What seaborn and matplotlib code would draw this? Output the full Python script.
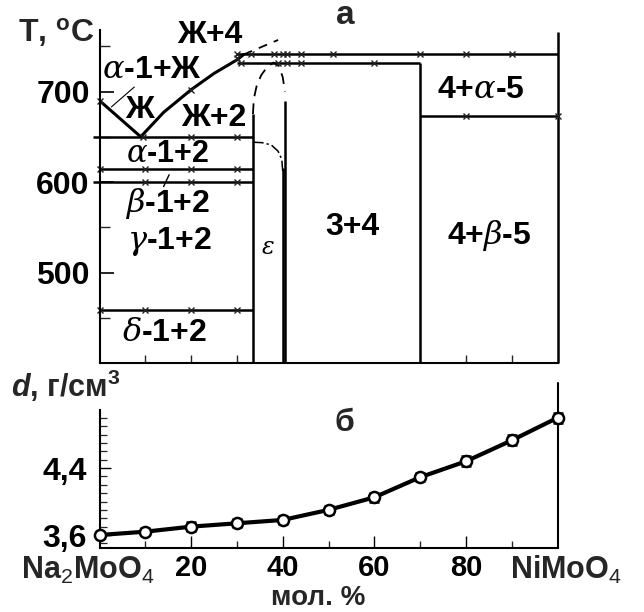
import matplotlib
matplotlib.use("Agg")
import matplotlib.pyplot as plt
import numpy as np
import pandas as pd
import seaborn as sns

# ---------------- panel "а": phase diagram Na2MoO4 - NiMoO4 ----------------
# liquidus branches (mol. % NiMoO4, °C)
liq_left_x = [0, 9]
liq_left_t = [690, 650]
liq_right_x = [9, 14, 20, 25, 30, 31.5]
liq_right_t = [650, 677, 702, 720, 735, 741]
liq_ext_x = [31.5, 39]
liq_ext_t = [741, 757]

# horizontal invariant lines: temperature, start and end composition
iso_t = [741, 732, 650, 614, 600, 459, 672.5]
iso_from = [30, 30, -1.5, 0, -1.5, 0, 70]
iso_to = [100, 70, 33.5, 33.5, 33.5, 33.5, 100]

# vertical phase boundaries: composition, lower and upper temperature
vert_x = [33.5, 40.5, 40.0, 70, 100]
vert_lo = [400, 400, 400, 400, 400]
vert_hi = [675, 690, 615, 732, 766]

# epsilon-phase field outlines
eps_dome_x = [33.5, 33.7, 34.3, 35.3, 36.6, 38.0, 39.2, 40.0, 40.5]
eps_dome_t = [675, 692, 706, 718, 727, 732, 728, 716, 700]
eps_corner_x = [33.5, 35.5, 37.5, 39.0, 39.8, 40.0]
eps_corner_t = [644, 643.5, 641, 634, 625, 612]

# thermal-analysis points (crosses)
pt_x = ([30, 33, 38, 40, 41, 44, 51, 70, 80, 90] + [31, 39, 41, 44, 60]
        + [9.5, 20, 30] + [0, 10, 20, 30] + [10, 20, 30] + [0, 10, 20, 30]
        + [80, 100] + [0, 20, 30])
pt_t = ([741] * 10 + [732] * 5 + [650] * 3 + [614] * 4 + [600] * 3
        + [459] * 4 + [672.5] * 2 + [690, 702, 737])

# phase-field labels
field_text = ["Ж+4", r"$\alpha$-1+Ж", "Ж", "Ж+2", r"$\alpha$-1+2",
              r"$\beta$-1+2", r"$\gamma$-1+2", r"$\delta$-1+2", r"$\varepsilon$",
              "3+4", r"4+$\alpha$-5", r"4+$\beta$-5"]
field_x = [24, 11.4, 8.7, 25, 14.8, 14.8, 15.3, 14.2, 36.7, 55.2, 83.2, 85]
field_t = [762, 724, 680, 671, 631, 576, 534, 433, 528, 550, 702, 541]
field_size = [23, 23, 23, 23, 22, 23, 23, 23, 17, 23, 23, 23]

# ---------------- panel "б": density ----------------
comp = [0, 10, 20, 30, 40, 50, 60, 70, 80, 90, 100]
density = [3.60, 3.64, 3.70, 3.74, 3.78, 3.90, 4.05, 4.29, 4.48, 4.73, 5.00]
dens_err = [0.04, 0.04, 0.05, 0.05, 0.05, 0.05, 0.05, 0.05, 0.06, 0.06, 0.06]

sns.set_theme(style="ticks")
plt.rcParams["font.family"] = ["Liberation Sans", "DejaVu Sans"]
plt.rcParams["font.weight"] = "bold"
plt.rcParams["mathtext.fontset"] = "custom"
plt.rcParams["mathtext.rm"] = "Liberation Sans:weight=normal"
plt.rcParams["mathtext.it"] = "DejaVu Serif:italic:weight=normal"
plt.rcParams["mathtext.bf"] = "Liberation Sans:bold"
plt.rcParams["mathtext.sf"] = "Liberation Sans:italic:bold"
plt.rcParams["axes.linewidth"] = 1.5

W, H = 644, 612
fig = plt.figure(figsize=(W / 100, H / 100), dpi=100)
fig.patch.set_facecolor("white")


def fpos(xp, yp):
    return xp / W, 1 - yp / H


ax1 = fig.add_axes([99.5 / W, 1 - 363 / H, 458 / W, 333 / H])
ax2 = fig.add_axes([99.5 / W, 1 - 548 / H, 458 / W, 138 / H])
for ax in (ax1, ax2):
    ax.set_facecolor("white")
    sns.despine(ax=ax, top=True, right=True)
    for s in ("left", "bottom"):
        ax.spines[s].set_color("black")

K = "black"
LW = 1.8

# --- top panel ---
liq_l = pd.DataFrame({"x": liq_left_x, "t": liq_left_t})
liq_r = pd.DataFrame({"x": liq_right_x, "t": liq_right_t})
sns.lineplot(data=liq_l, x="x", y="t", ax=ax1, color=K, lw=2.2, sort=False)
sns.lineplot(data=liq_r, x="x", y="t", ax=ax1, color=K, lw=2.2, sort=False)
ax1.plot(liq_ext_x, liq_ext_t, color=K, lw=1.3, ls=(0, (5, 4)), clip_on=False)

for t, a, b in zip(iso_t, iso_from, iso_to):
    ax1.plot([a, b], [t, t], color=K, lw=LW, clip_on=False, solid_capstyle="butt")
for x, lo, hi in zip(vert_x, vert_lo, vert_hi):
    ax1.plot([x, x], [lo, hi], color=K, lw=LW, clip_on=False, solid_capstyle="butt")

ax1.plot(eps_dome_x, eps_dome_t, color=K, lw=1.3, ls=(0, (6, 4)))
ax1.plot(eps_corner_x, eps_corner_t, color=K, lw=1.1, ls=(0, (7, 2, 1.5, 2)))

# leader strokes for labels
ax1.plot([2.6, 7.6], [683, 705], color=K, lw=0.8)
ax1.plot([14.0, 15.2], [595, 608], color=K, lw=1.0)

ax1.plot(pt_x, pt_t, ls="none", marker="x", ms=5, mew=1.0, color="#222222",
         clip_on=False)

for s, x, t, fs in zip(field_text, field_x, field_t, field_size):
    ax1.text(x, t, s, ha="center", va="center", fontsize=fs, fontweight="bold",
             color=K)

ax1.set_xlim(0, 100)
ax1.set_ylim(400, 768)
ax1.set_yticks([500, 600, 700])
ax1.set_yticks([450, 550, 650, 750], minor=True)
ax1.set_xticks([10, 20, 30, 80, 90])
ax1.set_xticklabels([])
ax1.tick_params(axis="y", which="major", direction="in", length=10, width=1.2,
                pad=7, labelsize=23, colors=K)
ax1.tick_params(axis="y", which="minor", direction="in", length=7, width=1.0)
ax1.tick_params(axis="x", which="major", direction="in", length=6, width=1.0)
ax1.set_xlabel("")
ax1.set_ylabel("")

# --- bottom panel ---
dens = pd.DataFrame({"x": comp, "d": density})
ax2.plot([100, 100], [3.445, 5.41], color=K, lw=1.5, clip_on=False, zorder=1)
sns.lineplot(data=dens, x="x", y="d", ax=ax2, color=K, lw=3.0, zorder=2)
ax2.errorbar(comp, density, yerr=dens_err, fmt="o", ms=8, mfc="white",
             mec=K, mew=1.8, ecolor=K, elinewidth=1.2, capsize=3.5, zorder=3,
             clip_on=False)

ax2.set_xlim(0, 100)
ax2.set_ylim(3.445, 5.093)
ax2.set_xticks([20, 40, 60, 80])
ax2.set_xticks([10, 30, 50, 70, 90], minor=True)
ax2.set_yticks([3.6, 4.4])
ax2.set_yticklabels(["3,6", "4,4"])
ax2.set_yticks([3.5, 3.7, 3.8, 3.9, 4.0, 4.1, 4.2, 4.3, 4.5, 4.6, 4.7, 4.8,
                4.9, 5.0], minor=True)
ax2.tick_params(axis="x", which="major", direction="in", length=9, width=1.0,
                pad=4, labelsize=21, colors=K)
ax2.tick_params(axis="x", which="minor", direction="in", length=5, width=1.0)
ax2.tick_params(axis="y", which="major", direction="in", length=8, width=1.0,
                pad=9, labelsize=23, colors=K)
ax2.tick_params(axis="y", which="minor", direction="in", length=5, width=0.9)
ax2.set_xlabel("")
ax2.set_ylabel("")

for ax in (ax1, ax2):
    for lbl in ax.get_xticklabels() + ax.get_yticklabels():
        lbl.set_fontweight("bold")

# --- captions ---
fig.text(*fpos(56, 33), r"T, $^{\mathbf{o}}$C", ha="center", va="center",
         fontsize=23, fontweight="bold")
fig.text(*fpos(345, 15), "а", ha="center", va="center", fontsize=24,
         fontweight="bold")
fig.text(*fpos(344, 423), "б", ha="center", va="center", fontsize=23,
         fontweight="bold")
fig.text(*fpos(66, 386), r"$\mathsf{d}$, г/см$^{\mathbf{3}}$", ha="center",
         va="center", fontsize=22, fontweight="bold")
fig.text(*fpos(88, 579), r"Na$_2$MoO$_4$", ha="center", va="baseline",
         fontsize=22, fontweight="bold")
fig.text(*fpos(566, 579), r"NiMoO$_4$", ha="center", va="baseline",
         fontsize=22, fontweight="bold")
fig.text(*fpos(318, 611), "мол. %", ha="center", va="bottom", fontsize=20,
         fontweight="bold")

fig.savefig("out.png", dpi=100, facecolor="white")
